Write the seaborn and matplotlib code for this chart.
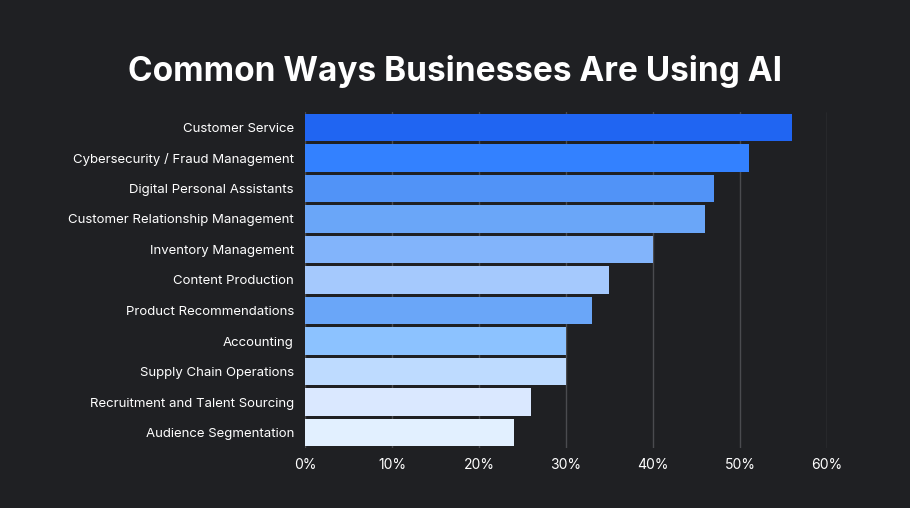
import matplotlib
matplotlib.use("Agg")
import matplotlib.pyplot as plt
import seaborn as sns
import pandas as pd
from matplotlib.ticker import FuncFormatter

categories = [
    "Customer Service",
    "Cybersecurity / Fraud Management",
    "Digital Personal Assistants",
    "Customer Relationship Management",
    "Inventory Management",
    "Content Production",
    "Product Recommendations",
    "Accounting",
    "Supply Chain Operations",
    "Recruitment and Talent Sourcing",
    "Audience Segmentation",
]
values = [56, 51, 47, 46, 40, 35, 33, 30, 30, 26, 24]
bar_colors = [
    "#2065F2", "#3381FF", "#5193F7", "#6AA6F8", "#82B4FB", "#A5C9FD",
    "#6AA6F8", "#8CC2FF", "#BEDBFF", "#DAE8FF", "#E2F0FF",
]
x_ticks = [0, 10, 20, 30, 40, 50, 60]

BG = "#1F2023"
sns.set_theme(style="dark")
plt.rcParams["font.family"] = ["Inter", "DejaVu Sans"]

df = pd.DataFrame({"category": categories, "value": values})

fig = plt.figure(figsize=(9.1, 5.08), dpi=100, facecolor=BG)
ax = fig.add_axes([305 / 910, 1 - 448 / 508, (827 - 305) / 910, (448 - 112) / 508])
ax.set_facecolor(BG)

sns.barplot(data=df, x="value", y="category", hue="category", palette=bar_colors,
            legend=False, width=0.9, ax=ax, zorder=2, saturation=1)
for p in ax.patches:
    p.set_edgecolor("none")

ax.set_xlim(0, 60)
ax.set_xticks(x_ticks)
ax.xaxis.set_major_formatter(FuncFormatter(lambda v, _: f"{int(v)}%"))
ax.grid(axis="x", color="#4a4b4f", linewidth=1, zorder=0)
ax.grid(axis="y", visible=False)
ax.set_axisbelow(True)
for s in ax.spines.values():
    s.set_visible(False)
ax.set_xlabel("")
ax.set_ylabel("")
ax.tick_params(axis="x", colors="white", labelsize=10, length=0, pad=7)
ax.tick_params(axis="y", colors="white", labelsize=9.5, length=0, pad=8)
for t in ax.get_xticklabels() + ax.get_yticklabels():
    t.set_color("white")

fig.text(0.5, 1 - 72 / 508, "Common Ways Businesses Are Using AI", ha="center", va="center",
         color="white", fontsize=24, fontweight="bold")

fig.savefig("out.png", dpi=100, facecolor=BG)
